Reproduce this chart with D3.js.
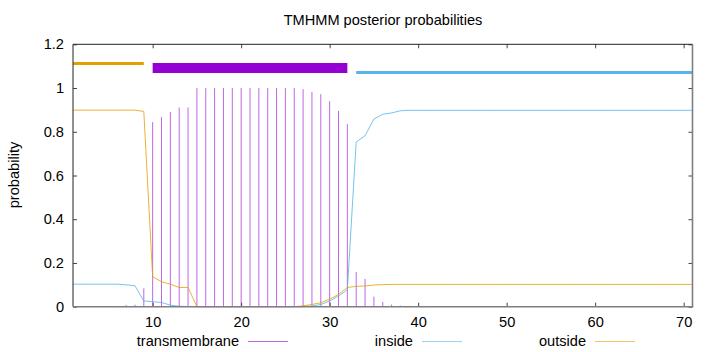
<!DOCTYPE html>
<html>
<head>
<meta charset="utf-8">
<script src="https://cdn.jsdelivr.net/npm/d3@7"></script>
<style>
  body { margin: 0; background: #fff; }
  svg text { font-family: "Liberation Sans", Arial, sans-serif; fill: #000; }
</style>
</head>
<body>
<script>
// sequence positions 1..71
const positions = [
  1, 2, 3, 4, 5, 6, 7, 8, 9, 10, 11, 12, 13, 14, 15, 16, 17, 18, 19, 20,
  21, 22, 23, 24, 25, 26, 27, 28, 29, 30, 31, 32, 33, 34, 35, 36, 37, 38, 39, 40,
  41, 42, 43, 44, 45, 46, 47, 48, 49, 50, 51, 52, 53, 54, 55, 56, 57, 58, 59, 60,
  61, 62, 63, 64, 65, 66, 67, 68, 69, 70, 71
];

// posterior probabilities
const transmembrane = [
  0.000, 0.000, 0.001, 0.001, 0.002, 0.004, 0.008, 0.009, 0.084, 0.844,
  0.867, 0.890, 0.911, 0.911, 1.000, 1.000, 1.000, 1.000, 1.000, 1.000,
  1.000, 1.000, 1.000, 1.000, 1.000, 1.000, 0.995, 0.982, 0.972, 0.940,
  0.895, 0.835, 0.159, 0.127, 0.046, 0.022, 0.010, 0.005, 0.004, 0.004,
  0.004, 0.003, 0.003, 0.003, 0.003, 0.003, 0.003, 0.003, 0.002, 0.002,
  0.002, 0.002, 0.002, 0.002, 0.002, 0.002, 0.002, 0.002, 0.002, 0.002,
  0.002, 0.002, 0.002, 0.002, 0.002, 0.002, 0.002, 0.002, 0.002, 0.002,
  0.002
];
const inside = [
  0.103, 0.103, 0.103, 0.103, 0.103, 0.103, 0.100, 0.096, 0.026, 0.023,
  0.019, 0.007, 0.002, 0.001, 0.000, 0.000, 0.000, 0.000, 0.000, 0.000,
  0.000, 0.000, 0.000, 0.000, 0.000, 0.000, 0.000, 0.003, 0.010, 0.026,
  0.049, 0.077, 0.753, 0.782, 0.858, 0.880, 0.886, 0.896, 0.898, 0.898,
  0.898, 0.898, 0.898, 0.898, 0.898, 0.898, 0.898, 0.898, 0.898, 0.898,
  0.898, 0.898, 0.898, 0.898, 0.898, 0.898, 0.898, 0.898, 0.898, 0.898,
  0.898, 0.898, 0.898, 0.898, 0.898, 0.898, 0.898, 0.898, 0.898, 0.898,
  0.898
];
const outside = [
  0.899, 0.899, 0.899, 0.899, 0.899, 0.899, 0.899, 0.899, 0.893, 0.137,
  0.114, 0.103, 0.088, 0.088, 0.000, 0.000, 0.000, 0.000, 0.000, 0.000,
  0.000, 0.000, 0.000, 0.000, 0.000, 0.000, 0.004, 0.010, 0.018, 0.034,
  0.056, 0.088, 0.093, 0.095, 0.099, 0.101, 0.102, 0.102, 0.102, 0.102,
  0.102, 0.102, 0.102, 0.102, 0.102, 0.102, 0.102, 0.102, 0.102, 0.102,
  0.102, 0.102, 0.102, 0.102, 0.102, 0.102, 0.102, 0.102, 0.102, 0.102,
  0.102, 0.102, 0.102, 0.102, 0.102, 0.102, 0.102, 0.102, 0.102, 0.102,
  0.102
];

// predicted topology segments drawn above the curves
const segType  = ['outside', 'TMhelix', 'inside'];
const segStart = [1, 10, 33];
const segEnd   = [9, 32, 71];
const segLevel = [1.112, 1.092, 1.071];

const xTicks = [10, 20, 30, 40, 50, 60, 70];
const yTicks = [0, 0.2, 0.4, 0.6, 0.8, 1, 1.2];

const W = 720, H = 352;
const m = { left: 73, right: 692.5, top: 44.3, bottom: 306.7 };

const col = { tm: '#9400d3', inside: '#56b4e9', outside: '#e69f00' };
const segColor = { outside: col.outside, TMhelix: col.tm, inside: col.inside };
const segWidth = { outside: 3, TMhelix: 10, inside: 3 };

const svg = d3.select('body').append('svg')
  .attr('width', W).attr('height', H);

const x = d3.scaleLinear().domain([1, 71]).range([m.left, m.right]);
const y = d3.scaleLinear().domain([0, 1.2]).range([m.bottom, m.top]);

// axes with ticks pointing inwards, mirrored on top/right
const fs = 14.6;
const gx = svg.append('g').attr('transform', `translate(0,${m.bottom})`)
  .call(d3.axisBottom(x).tickValues(xTicks).tickSize(-4).tickFormat(d3.format('d')));
gx.selectAll('text').attr('y', 20.3).attr('dy', null).style('font-size', fs + 'px');
svg.append('g').attr('transform', `translate(0,${m.top})`)
  .call(d3.axisTop(x).tickValues(xTicks).tickSize(-4).tickFormat(''));

const gy = svg.append('g').attr('transform', `translate(${m.left},0)`)
  .call(d3.axisLeft(y).tickValues(yTicks).tickSize(-4).tickFormat(d => d === 0 ? '0' : d3.format('~g')(d)));
gy.selectAll('text').attr('x', -9).style('font-size', fs + 'px');
svg.append('g').attr('transform', `translate(${m.right},0)`)
  .call(d3.axisRight(y).tickValues(yTicks).tickSize(-4).tickFormat(''));

svg.selectAll('.domain').remove();
svg.selectAll('.tick line').attr('stroke', '#444');

const idx = d3.range(positions.length);

// transmembrane impulses
svg.append('g').selectAll('line').data(idx).join('line')
  .attr('x1', i => x(positions[i])).attr('x2', i => x(positions[i]))
  .attr('y1', y(0)).attr('y2', i => y(transmembrane[i]))
  .attr('stroke', col.tm).attr('stroke-opacity', 0.6).attr('stroke-width', 1);

// inside / outside curves
const line = vals => d3.line().x(i => x(positions[i])).y(i => y(vals[i]))(idx);
svg.append('path').attr('d', line(inside))
  .attr('fill', 'none').attr('stroke', col.inside).attr('stroke-opacity', 0.8).attr('stroke-width', 1);
svg.append('path').attr('d', line(outside))
  .attr('fill', 'none').attr('stroke', col.outside).attr('stroke-opacity', 0.8).attr('stroke-width', 1);

// topology bars
svg.append('g').selectAll('line').data(segType).join('line')
  .attr('x1', (d, i) => x(segStart[i])).attr('x2', (d, i) => x(segEnd[i]))
  .attr('y1', (d, i) => y(segLevel[i])).attr('y2', (d, i) => y(segLevel[i]))
  .attr('stroke', d => segColor[d]).attr('stroke-width', d => segWidth[d]);

// border
svg.append('line').attr('x1', m.left).attr('x2', m.right).attr('y1', m.top).attr('y2', m.top)
  .attr('stroke', '#222').attr('stroke-width', 1);
svg.append('line').attr('x1', m.left).attr('x2', m.left).attr('y1', m.top).attr('y2', m.bottom)
  .attr('stroke', '#222').attr('stroke-width', 1);
svg.append('line').attr('x1', m.left).attr('x2', m.right + 0.8).attr('y1', m.bottom).attr('y2', m.bottom)
  .attr('stroke', '#7f7f7f').attr('stroke-width', 1.6);
svg.append('line').attr('x1', m.right).attr('x2', m.right).attr('y1', m.top).attr('y2', m.bottom)
  .attr('stroke', '#7f7f7f').attr('stroke-width', 1.6);

// title and axis label
svg.append('text').attr('x', 383).attr('y', 25).attr('text-anchor', 'middle')
  .style('font-size', fs + 'px').text('TMHMM posterior probabilities');
svg.append('text').attr('transform', 'translate(19,175) rotate(-90)').attr('text-anchor', 'middle')
  .style('font-size', fs + 'px').text('probability');

// legend
const legNames = ['transmembrane', 'inside', 'outside'];
const legColors = [col.tm, col.inside, col.outside];
const legTextX = [239, 413, 586];
const lg = svg.append('g');
legNames.forEach((name, i) => {
  lg.append('text').attr('x', legTextX[i]).attr('y', 345.5).attr('text-anchor', 'end')
    .style('font-size', fs + 'px').text(name);
  lg.append('line').attr('x1', legTextX[i] + 9).attr('x2', legTextX[i] + 49)
    .attr('y1', 341.5).attr('y2', 341.5)
    .attr('stroke', legColors[i]).attr('stroke-opacity', 0.6).attr('stroke-width', 1);
});
</script>
</body>
</html>
